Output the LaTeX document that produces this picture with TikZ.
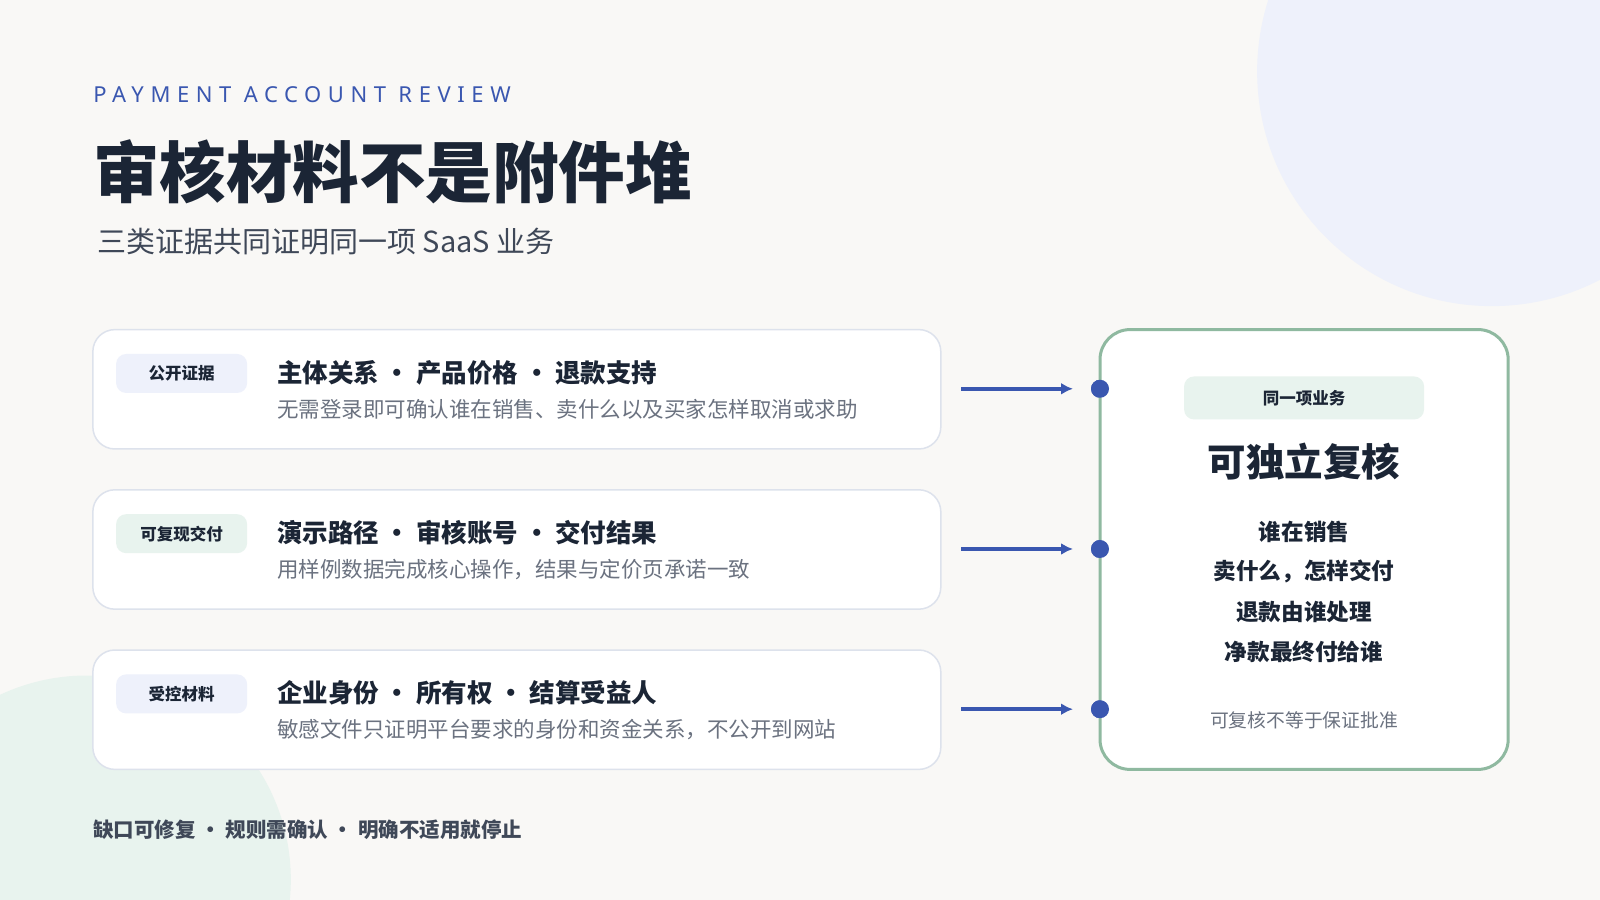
\documentclass[tikz,border=0pt]{standalone}
\usepackage{fontspec}
\setmainfont{Noto Sans CJK SC}
\newfontfamily\latinsp[LetterSpace=30]{Noto Sans}
\usetikzlibrary{arrows.meta}
\definecolor{bgpaper}{HTML}{F9F8F6}
\definecolor{inkdark}{HTML}{1B2535}
\definecolor{inkgray}{HTML}{3F4858}
\definecolor{inklight}{HTML}{6B7280}
\definecolor{accblue}{HTML}{3A57B0}
\definecolor{tagblue}{HTML}{EEF1FB}
\definecolor{taggreen}{HTML}{E8F3EE}
\definecolor{cardline}{HTML}{DDE2EC}
\definecolor{sumline}{HTML}{8FB9A0}
\newcommand{\fs}[1]{\fontsize{#1}{#1}\selectfont}
\tikzset{
  card/.style={draw=cardline, line width=1.5, fill=white, rounded corners=22},
  tag/.style={rounded corners=10, minimum width=131, minimum height=39, inner sep=0, font=\fs{16.5}\bfseries, text=inkdark},
  head/.style={anchor=west, font=\fs{25.5}\bfseries, text=inkdark},
  note/.style={anchor=west, font=\fs{21.5}, text=inklight},
  link/.style={draw=accblue, line width=4, -{Latex[length=12, width=12]}},
  dot/.style={circle, fill=accblue, minimum size=18, inner sep=0},
  sumtext/.style={font=\fs{22.6}\bfseries, text=inkdark}
}
\begin{document}
\begin{tikzpicture}[x=1.0204pt, y=-1.0204pt]
  \fill[bgpaper] (0,0) rectangle (1568,882);
  \useasboundingbox (0,0) rectangle (1568,882);
  \fill[tagblue] (1462,70) circle (230);
  \fill[taggreen] (85,862) circle (200);
  % titles
  \node[anchor=west, font=\latinsp\fs{22}, text=accblue] (kicker) at (88,93) {PAYMENT ACCOUNT REVIEW};
  \node[anchor=west, font=\fs{66.5}\bfseries, text=inkdark] (title) at (88,168) {审核材料不是附件堆};
  \node[anchor=west, font=\fs{29}, text=inkgray] (subtitle) at (92,237) {三类证据共同证明同一项 SaaS 业务};
  % evidence cards
  \foreach \y/\tg/\tc/\hd/\nt [count=\i] in {
      381/公开证据/tagblue/主体关系 · 产品价格 · 退款支持/无需登录即可确认谁在销售、卖什么以及买家怎样取消或求助,
      538/可复现交付/taggreen/演示路径 · 审核账号 · 交付结果/用样例数据完成核心操作，结果与定价页承诺一致,
      695/受控材料/tagblue/企业身份 · 所有权 · 结算受益人/敏感文件只证明平台要求的身份和资金关系，不公开到网站} {
    \draw[card] (91,\y-58) rectangle (922,\y+59);
    \node[tag, fill=\tc] (tag\i) at (178,\y-15) {\tg};
    \node[head] (head\i) at (268,\y-16) {\hd};
    \node[note] (note\i) at (268,\y+20) {\nt};
    \node[dot] (dot\i) at (1078,\y) {};
    \coordinate (src\i) at (942,\y);
  }
  % summary card
  \draw[draw=sumline, line width=3, fill=white, rounded corners=30] (1078,323) rectangle (1478,754);
  \foreach \i in {1,2,3} {
    \node[dot] at (dot\i) {};
    \draw[link] (src\i) -- ([xshift=-27]dot\i.center);
  }
  \node[fill=taggreen, rounded corners=10, minimum width=240, minimum height=43, inner sep=0, font=\fs{16.5}\bfseries, text=inkdark] (same) at (1278,390) {同一项业务};
  \node[font=\fs{38.5}\bfseries, text=inkdark] (verdict) at (1278,452) {可独立复核};
  \node[sumtext] (who) at (1278,521) {谁在销售};
  \node[sumtext] (what) at (1278,560) {卖什么，怎样交付};
  \node[sumtext] (refund) at (1278,600) {退款由谁处理};
  \node[sumtext] (payee) at (1278,639) {净款最终付给谁};
  \node[font=\fs{18.8}, text=inklight] (caveat) at (1278,706) {可复核不等于保证批准};
  % footer
  \node[anchor=west, font=\fs{20.5}\bfseries, text=inkgray] (footer) at (88,813) {缺口可修复 · 规则需确认 · 明确不适用就停止};
\end{tikzpicture}
\end{document}
